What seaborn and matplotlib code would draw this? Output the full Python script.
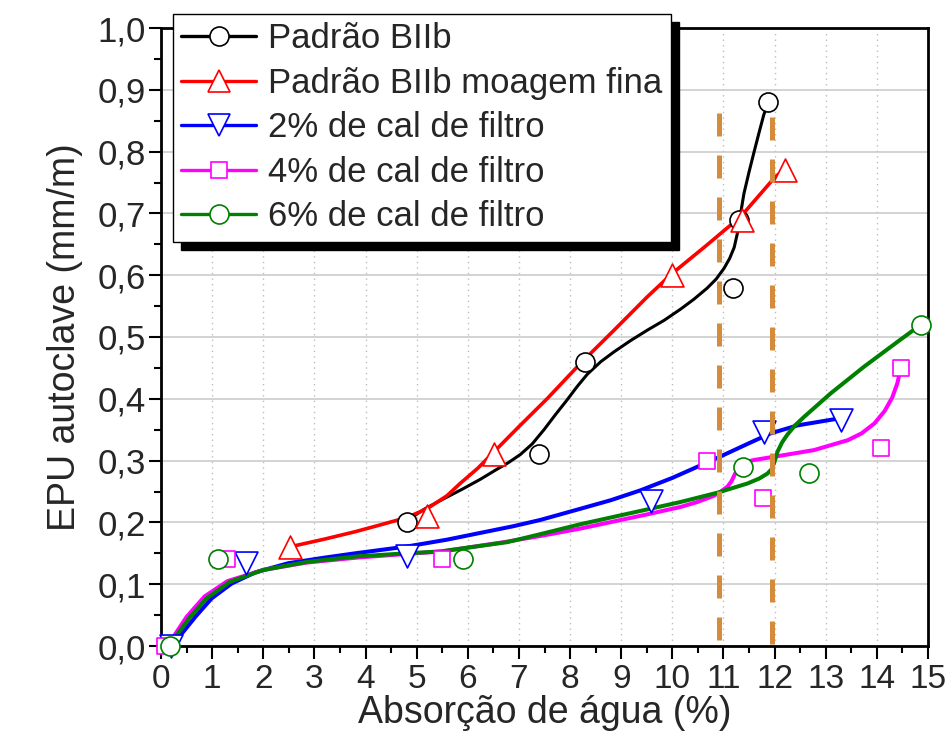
import matplotlib
matplotlib.use('Agg')
import matplotlib.pyplot as plt
import seaborn as sns
from matplotlib.lines import Line2D
from matplotlib.ticker import MultipleLocator, FuncFormatter

# ---------------- data ----------------
series_names = ["Padrão BIIb", "Padrão BIIb moagem fina", "2% de cal de filtro",
                "4% de cal de filtro", "6% de cal de filtro"]

# measured points
biib_x = [4.82, 7.40, 8.30, 11.19, 11.31, 11.88]
biib_y = [0.20, 0.31, 0.46, 0.58, 0.69, 0.88]
fina_x = [2.52, 5.20, 6.51, 10.00, 11.37, 12.20]
fina_y = [0.16, 0.21, 0.31, 0.60, 0.69, 0.77]
cal2_x = [0.20, 1.66, 4.81, 9.59, 11.80, 13.30]
cal2_y = [0.00, 0.135, 0.145, 0.235, 0.346, 0.365]
cal4_x = [0.08, 1.29, 5.50, 10.68, 11.78, 14.08, 14.47]
cal4_y = [0.00, 0.14, 0.14, 0.30, 0.24, 0.32, 0.45]
cal6_x = [0.18, 1.11, 5.91, 11.39, 12.68, 14.87]
cal6_y = [0.00, 0.14, 0.14, 0.29, 0.28, 0.52]

# fitted curves
biib_fit_x = [4.85, 5.14, 5.50, 5.92, 6.25, 6.57, 6.80, 7.03, 7.26, 7.49, 7.72, 7.94,
              8.14, 8.34, 8.60, 8.86, 9.18, 9.51, 9.84, 10.16, 10.42, 10.68, 10.86,
              11.01, 11.12, 11.21, 11.27, 11.33, 11.40, 11.50, 11.60, 11.70, 11.79, 11.88]
biib_fit_y = [0.205, 0.221, 0.237, 0.255, 0.270, 0.286, 0.297, 0.310, 0.327, 0.350,
              0.375, 0.398, 0.420, 0.440, 0.460, 0.476, 0.494, 0.511, 0.527, 0.545,
              0.561, 0.579, 0.594, 0.611, 0.627, 0.645, 0.667, 0.697, 0.732, 0.767,
              0.800, 0.832, 0.860, 0.880]
fina_fit_x = [2.55, 3.20, 3.80, 4.29, 4.81, 5.20, 5.59, 5.85, 6.20, 6.51, 7.00, 7.55,
              8.20, 8.86, 9.51, 10.00, 10.65, 11.34, 11.99, 12.10]
fina_fit_y = [0.161, 0.173, 0.185, 0.196, 0.208, 0.222, 0.243, 0.263, 0.288, 0.314,
              0.355, 0.400, 0.457, 0.511, 0.565, 0.603, 0.647, 0.695, 0.757, 0.765]
cal2_fit_x = [0.20, 0.31, 0.67, 0.99, 1.38, 1.84, 2.49, 3.20, 3.80, 4.81, 5.59,
              6.90, 7.42, 8.20, 8.80, 9.38, 10.00, 10.49, 10.95, 11.47, 11.92,
              12.45, 13.10, 13.25]
cal2_fit_y = [0.000, 0.010, 0.047, 0.077, 0.101, 0.119, 0.134, 0.143, 0.150, 0.161,
              0.172, 0.194, 0.204, 0.222, 0.236, 0.252, 0.272, 0.290, 0.307, 0.327,
              0.344, 0.357, 0.366, 0.368]
cal4_fit_x = [0.08, 0.22, 0.50, 0.85, 1.30, 2.00, 2.85, 3.83, 4.81, 5.50, 6.70,
              7.42, 8.20, 9.51, 10.16, 10.49, 10.81, 10.95, 11.08, 11.16, 11.24,
              11.30, 11.40, 11.60, 12.12, 12.77, 13.43, 13.70, 13.95, 14.15, 14.30,
              14.40, 14.47]
cal4_fit_y = [0.000, 0.012, 0.047, 0.080, 0.105, 0.123, 0.135, 0.143, 0.149, 0.153,
              0.168, 0.178, 0.190, 0.213, 0.225, 0.233, 0.243, 0.250, 0.258, 0.267,
              0.281, 0.291, 0.297, 0.301, 0.308, 0.317, 0.333, 0.344, 0.360, 0.380,
              0.402, 0.425, 0.450]
cal6_fit_x = [0.18, 0.24, 0.57, 0.89, 1.35, 2.00, 2.85, 3.83, 4.81, 5.46, 6.77,
              7.42, 8.20, 9.51, 10.16, 10.88, 11.47, 11.70, 11.86, 11.94, 11.99, 12.06,
              12.15, 12.25, 12.40, 12.58, 13.10, 13.75, 14.40, 14.73, 14.87]
cal6_fit_y = [0.000, 0.010, 0.047, 0.077, 0.104, 0.123, 0.136, 0.145, 0.150, 0.153,
              0.168, 0.181, 0.197, 0.221, 0.233, 0.248, 0.263, 0.271, 0.279, 0.286,
              0.296, 0.315, 0.330, 0.342, 0.357, 0.371, 0.409, 0.452, 0.492, 0.512,
              0.520]

# vertical reference lines
ref_x = [10.92, 11.94]
ref_top = [0.862, 0.856]

x_ticks = list(range(0, 16))
y_ticks = [i / 10 for i in range(0, 11)]

# ---------------- style ----------------
sns.set_style('ticks')
plt.rcParams['font.family'] = ['Liberation Sans', 'DejaVu Sans']

colors = ['black', '#FF0000', '#0000FF', '#FF00FF', '#008000']
markers = ['o', '^', 'v', 's', 'o']
msizes = [13.7, 16.5, 16.5, 12.2, 13.7]
lws = [2.2, 2.6, 2.9, 2.9, 2.9]

pts = [(biib_x, biib_y), (fina_x, fina_y), (cal2_x, cal2_y), (cal4_x, cal4_y), (cal6_x, cal6_y)]
fits = [(biib_fit_x, biib_fit_y), (fina_fit_x, fina_fit_y), (cal2_fit_x, cal2_fit_y),
        (cal4_fit_x, cal4_fit_y), (cal6_fit_x, cal6_fit_y)]

fig = plt.figure(figsize=(9.5, 7.54), dpi=100)
ax = fig.add_axes([161 / 950, 1 - 646 / 754, (928 - 161) / 950, (646 - 28) / 754])
ax.set_axisbelow(True)

for (fx, fy), c, lw in zip(fits, colors, lws):
    sns.lineplot(x=fx, y=fy, color=c, linewidth=lw, sort=False, estimator=None,
                 ax=ax, zorder=3)

for (px, py), c, m, ms in zip(pts, colors, markers, msizes):
    sns.scatterplot(x=px, y=py, marker=m, s=ms ** 2, color='white', edgecolor=c,
                    linewidth=1.2, ax=ax, zorder=4, clip_on=False)

for rx, rt in zip(ref_x, ref_top):
    ax.plot([rx, rx], [rt, 0.0], color='#D48C3C', linewidth=3.6,
            linestyle=(0, (4.6, 3.8)), zorder=5, clip_on=False)

ax.set_xlim(0, 15)
ax.set_ylim(0, 1.0)
ax.set_xticks(x_ticks)
ax.set_yticks(y_ticks)
ax.xaxis.set_minor_locator(MultipleLocator(0.5))
ax.yaxis.set_minor_locator(MultipleLocator(0.05))
ax.yaxis.set_major_formatter(FuncFormatter(lambda v, p: f"{v:.1f}".replace('.', ',')))

ax.yaxis.grid(True, which='major', color='#c8c8c8', linewidth=1.1, linestyle='-')
ax.xaxis.grid(True, which='major', color='#bdbdbd', linewidth=1.0, linestyle=(0, (1, 3)))

for s in ['left', 'right', 'top', 'bottom']:
    ax.spines[s].set_visible(True)
    ax.spines[s].set_linewidth(2.0)
    ax.spines[s].set_color('black')

ax.tick_params(axis='both', which='major', direction='out', length=9, width=1.5,
               color='black', top=False, right=False)
ax.tick_params(axis='both', which='minor', direction='out', length=5, width=1.5,
               color='black', top=False, right=False)
ax.tick_params(axis='x', which='major', labelsize=24, pad=4)
ax.tick_params(axis='y', which='major', labelsize=25, pad=2)

ax.set_xlabel("Absorção de água (%)", fontsize=27, labelpad=0)
ax.set_ylabel("EPU autoclave (mm/m)", fontsize=27, labelpad=10)

handles = [Line2D([0], [0], color=c, linewidth=2.4, marker=m, markersize=ms,
                  markerfacecolor='white', markeredgecolor=c, markeredgewidth=1.2)
           for c, m, ms in zip(colors, markers, msizes)]
leg = fig.legend(handles, series_names, loc='upper left',
                 bbox_to_anchor=(173 / 950, 1 - 14 / 754), bbox_transform=fig.transFigure,
                 fontsize=25, frameon=True, fancybox=False, framealpha=1,
                 edgecolor='black', borderpad=0.24, labelspacing=0.33,
                 handlelength=2.15, handletextpad=0.35, borderaxespad=0,
                 shadow={'ox': 5.8, 'oy': -5.8, 'color': 'black', 'alpha': 1})
leg.get_frame().set_linewidth(1.0)
leg.set_zorder(10)

fig.savefig('out.png', dpi=100)
